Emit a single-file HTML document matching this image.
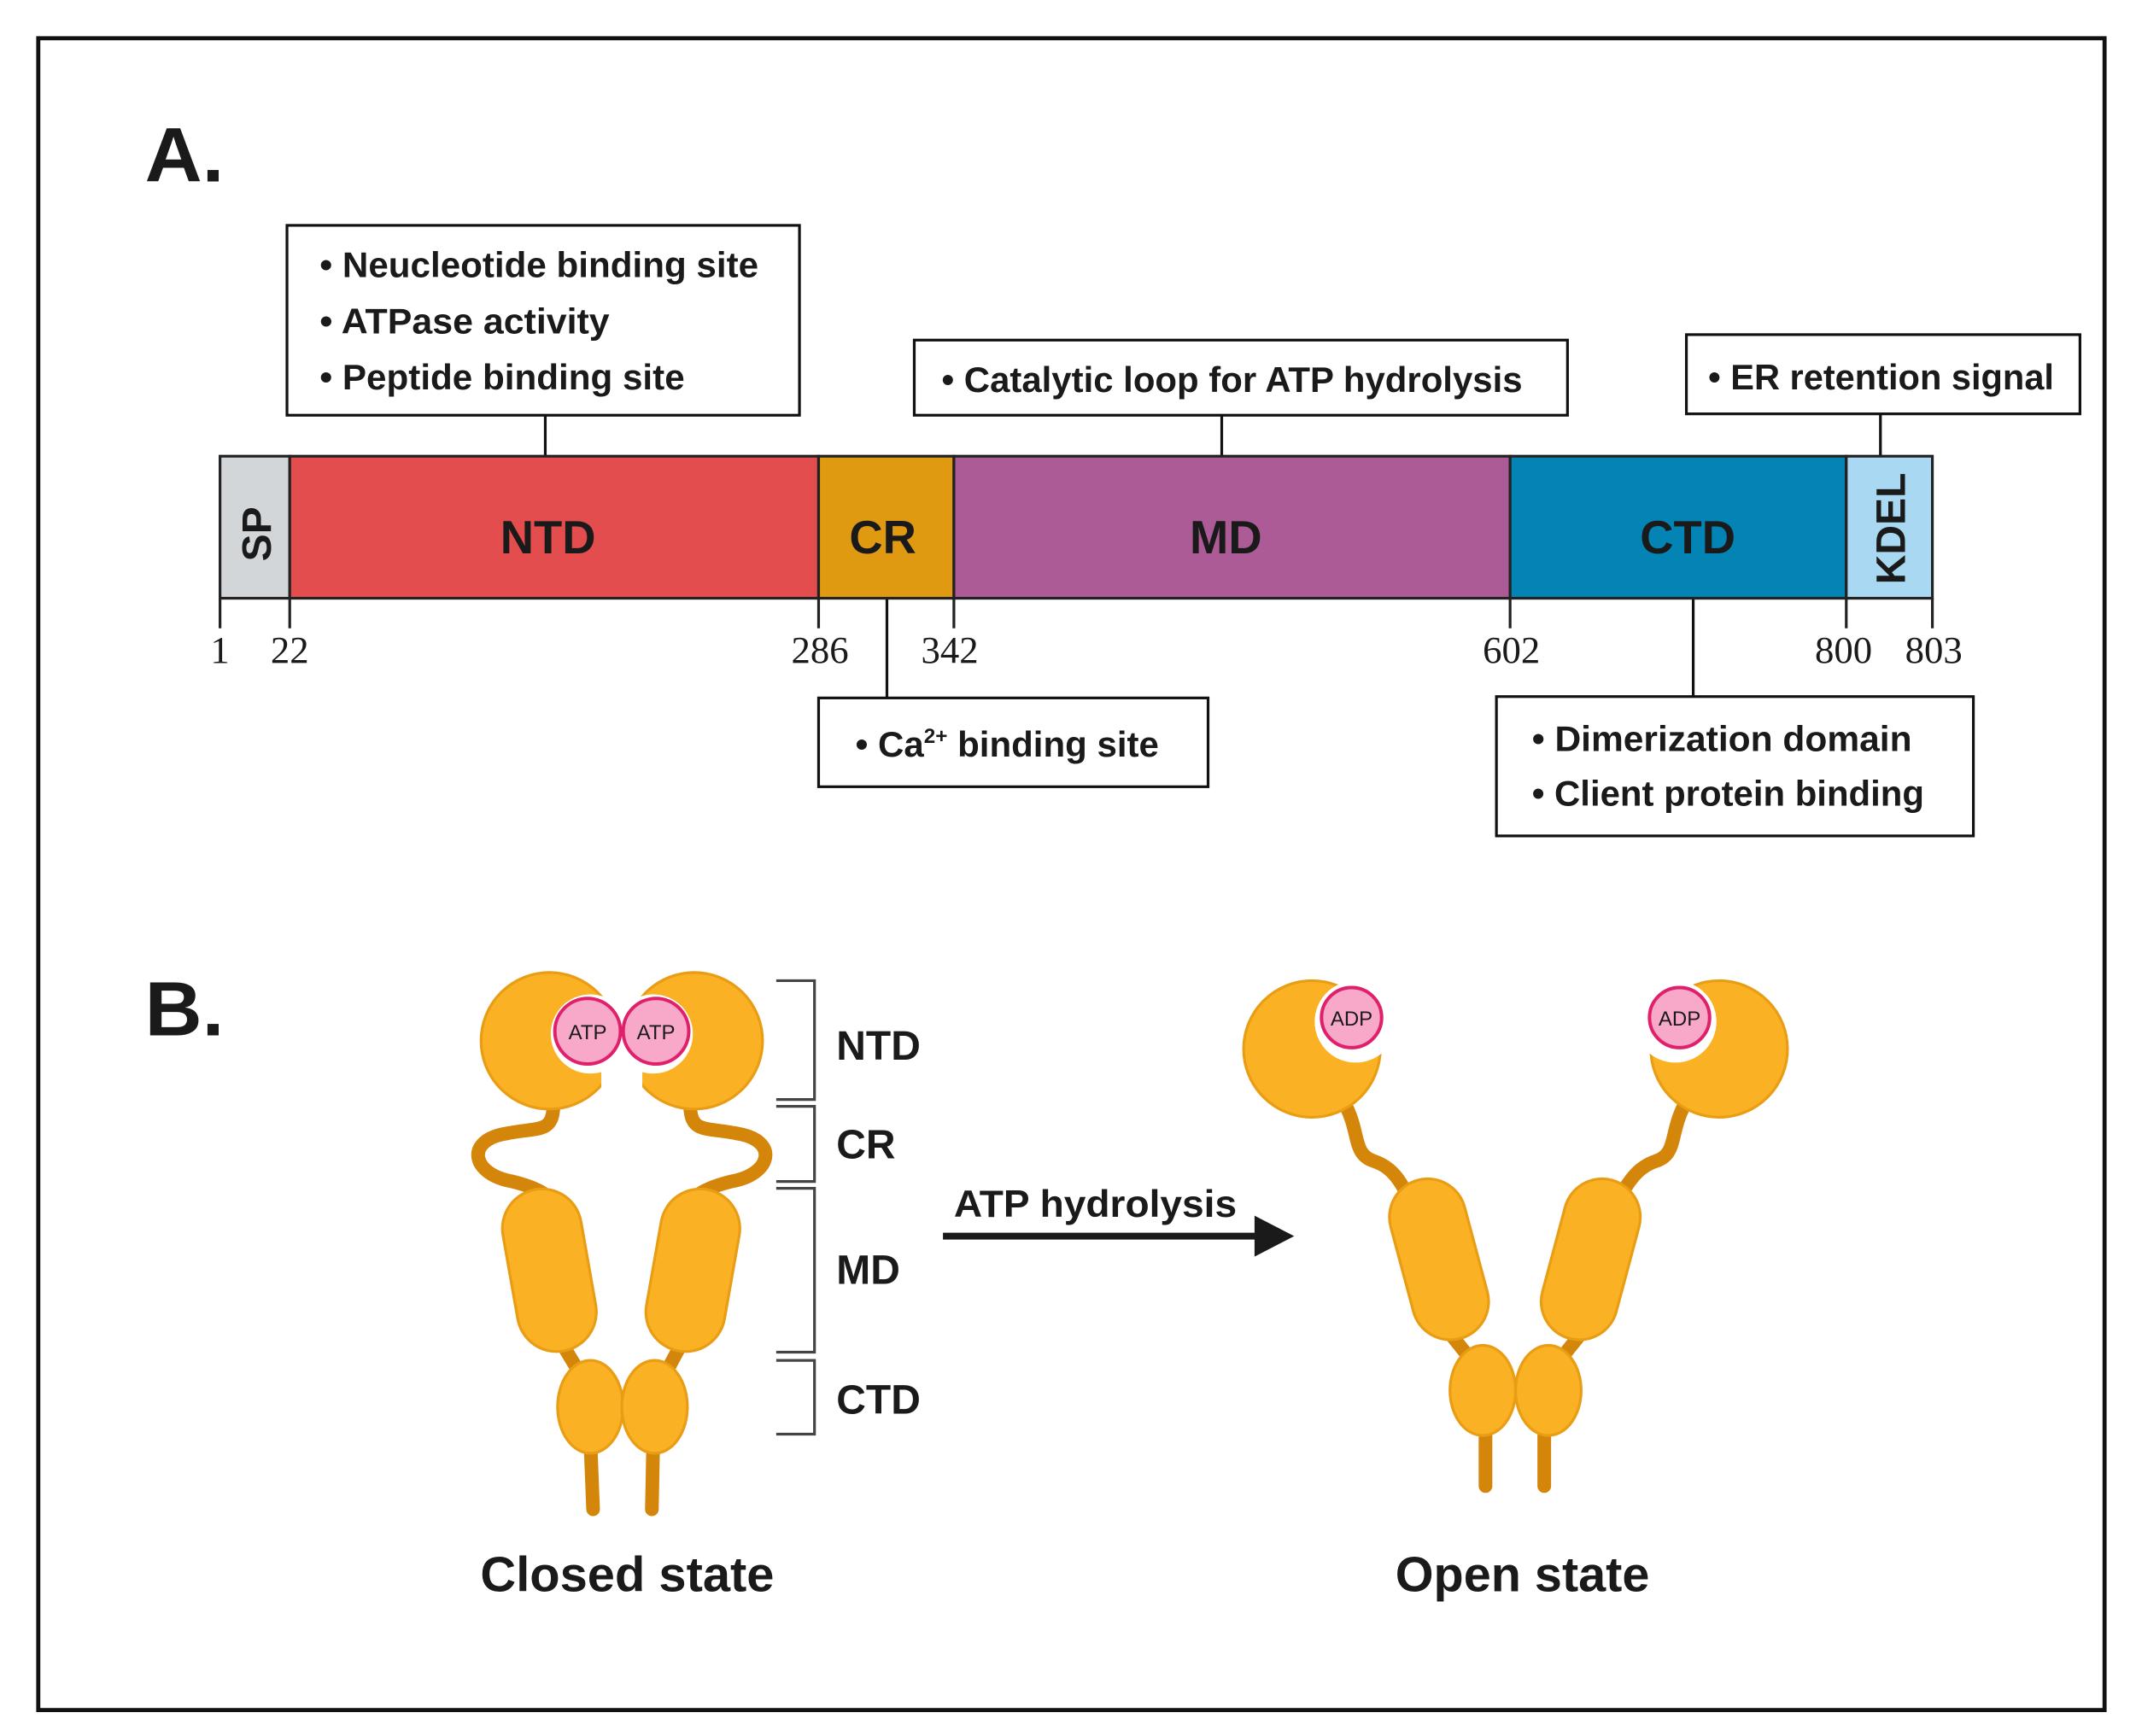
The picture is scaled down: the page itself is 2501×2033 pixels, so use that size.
<!DOCTYPE html>
<html><head><meta charset="utf-8"><style>
html,body{margin:0;padding:0;background:#fff}
svg{display:block}
text{font-family:"Liberation Sans",sans-serif;font-weight:bold;fill:#1a1a1a}
.n{font-family:"Liberation Serif",serif;font-weight:normal;font-size:28px}
.bt{font-size:26px}
</style></head><body>
<svg width="2501" height="2033" viewBox="0 0 1563 1271" preserveAspectRatio="none" xmlns="http://www.w3.org/2000/svg">
<rect x="0" y="0" width="1563" height="1271" fill="#fff"/>
<rect x="28" y="28" width="1512" height="1224" fill="none" stroke="#111" stroke-width="3"/>
<text x="106" y="133" font-size="56" textLength="58" lengthAdjust="spacingAndGlyphs">A.</text>
<text x="106" y="758" font-size="56" textLength="58" lengthAdjust="spacingAndGlyphs">B.</text>

<!-- info boxes -->
<g fill="#fff" stroke="#111" stroke-width="2">
<rect x="210" y="165" width="375" height="139"/>
<rect x="669" y="249" width="478" height="55"/>
<rect x="1234" y="245" width="288" height="58"/>
<rect x="599" y="511" width="285" height="65"/>
<rect x="1095" y="510" width="349" height="102"/>
</g>
<g stroke="#111" stroke-width="2">
<line x1="399" y1="304" x2="399" y2="334"/>
<line x1="894" y1="304" x2="894" y2="334"/>
<line x1="1376" y1="303" x2="1376" y2="334"/>
<line x1="649" y1="438" x2="649" y2="511"/>
<line x1="1239" y1="438" x2="1239" y2="510"/>
</g>
<text class="bt" x="234" y="203" textLength="321" lengthAdjust="spacingAndGlyphs">• Neucleotide binding site</text>
<text class="bt" x="234" y="244" textLength="212" lengthAdjust="spacingAndGlyphs">• ATPase activity</text>
<text class="bt" x="234" y="285" textLength="267" lengthAdjust="spacingAndGlyphs">• Peptide binding site</text>
<text class="bt" x="689" y="287" textLength="425" lengthAdjust="spacingAndGlyphs">• Catalytic loop for ATP hydrolysis</text>
<text class="bt" x="1250" y="285" textLength="253" lengthAdjust="spacingAndGlyphs">• ER retention signal</text>
<text class="bt" x="626" y="554" textLength="222" lengthAdjust="spacingAndGlyphs">• Ca<tspan font-size="15" dy="-10">2+</tspan><tspan dy="10"> binding site</tspan></text>
<text class="bt" x="1121" y="550" textLength="278" lengthAdjust="spacingAndGlyphs">• Dimerization domain</text>
<text class="bt" x="1121" y="590" textLength="287" lengthAdjust="spacingAndGlyphs">• Client protein binding</text>

<!-- bar -->
<g stroke="#222" stroke-width="2">
<rect x="161" y="334" width="51" height="104" fill="#d3d6d9"/>
<rect x="212" y="334" width="387" height="104" fill="#e44d4e"/>
<rect x="599" y="334" width="99" height="104" fill="#e09a12"/>
<rect x="698" y="334" width="407" height="104" fill="#ad5b97"/>
<rect x="1105" y="334" width="246" height="104" fill="#0384b5"/>
<rect x="1351" y="334" width="63" height="104" fill="#a9d9f2"/>
<line x1="161" y1="438" x2="161" y2="460"/><line x1="212" y1="438" x2="212" y2="460"/>
<line x1="599" y1="438" x2="599" y2="460"/><line x1="698" y1="438" x2="698" y2="460"/>
<line x1="1105" y1="438" x2="1105" y2="460"/><line x1="1351" y1="438" x2="1351" y2="460"/>
<line x1="1414" y1="438" x2="1414" y2="460"/>
</g>
<g font-size="34" text-anchor="middle">
<text x="401" y="405">NTD</text>
<text x="646" y="405">CR</text>
<text x="897" y="405">MD</text>
<text x="1235" y="405">CTD</text>
<text transform="translate(198,391) rotate(-90)" font-size="30">SP</text>
<text transform="translate(1394,387) rotate(-90)" font-size="30">KDEL</text>
</g>
<g text-anchor="middle">
<text class="n" x="161" y="485">1</text>
<text class="n" x="212" y="485">22</text>
<text class="n" x="600" y="485">286</text>
<text class="n" x="695" y="485">342</text>
<text class="n" x="1106" y="485">602</text>
<text class="n" x="1349" y="485">800</text>
<text class="n" x="1415" y="485">803</text>
</g>

<!-- closed state -->
<g stroke="#d4860b" stroke-width="10" fill="none" stroke-linecap="round">
<path d="M405 808 C405 830 395 825 370 830 C340 835 345 860 375 865 C395 870 400 875 405 880"/>
<path d="M505 808 C505 830 515 825 540 830 C570 835 565 860 535 865 C515 870 510 875 505 880"/>
<line x1="412" y1="985" x2="430" y2="1015"/><line x1="498" y1="985" x2="482" y2="1015"/>
<line x1="432" y1="1055" x2="434" y2="1105"/><line x1="478" y1="1055" x2="477" y2="1105"/>
<line x1="1060" y1="975" x2="1080" y2="1000"/><line x1="1158" y1="975" x2="1138" y2="1000"/>
<line x1="1087" y1="1045" x2="1087" y2="1088"/><line x1="1130" y1="1045" x2="1130" y2="1088"/>
<path d="M985 810 C995 830 990 845 1005 850 C1020 855 1025 865 1035 885"/>
<path d="M1232 810 C1222 830 1227 845 1212 850 C1197 855 1192 865 1180 885"/>
</g>
<g fill="#fbb124" stroke="#e89d14" stroke-width="2">
<rect x="373" y="870" width="58" height="120" rx="29" transform="rotate(-10 402 930)"/>
<rect x="478" y="870" width="58" height="120" rx="29" transform="rotate(10 507 930)"/>
<ellipse cx="432" cy="1030" rx="24" ry="34"/>
<ellipse cx="479" cy="1030" rx="24" ry="34"/>
<circle cx="402" cy="762" r="50"/>
<circle cx="508" cy="762" r="50"/>
<rect x="1025" y="862" width="56" height="120" rx="28" transform="rotate(-15 1053 922)"/>
<rect x="1136" y="862" width="56" height="120" rx="28" transform="rotate(15 1164 922)"/>
<ellipse cx="1085" cy="1018" rx="24" ry="33"/>
<ellipse cx="1133" cy="1018" rx="24" ry="33"/>
<circle cx="960" cy="768" r="50"/>
<circle cx="1258" cy="768" r="50"/>
</g>
<g fill="#fff">
<circle cx="432" cy="757" r="29"/><circle cx="478" cy="757" r="29"/>
<rect x="440" y="775" width="30" height="40"/>
<circle cx="992" cy="748" r="30"/><circle cx="1226" cy="748" r="30"/>
</g>
<g fill="#f8a8c9" stroke="#e0206a" stroke-width="2.5">
<circle cx="430" cy="755" r="24"/><circle cx="480" cy="755" r="24"/>
<circle cx="989" cy="745" r="22"/><circle cx="1229" cy="745" r="22"/>
</g>
<g font-size="15" text-anchor="middle" font-weight="normal">
<text x="430" y="761" style="font-weight:normal" fill="#5a1030">ATP</text>
<text x="480" y="761" style="font-weight:normal" fill="#5a1030">ATP</text>
<text x="989" y="751" style="font-weight:normal" fill="#5a1030">ADP</text>
<text x="1229" y="751" style="font-weight:normal" fill="#5a1030">ADP</text>
</g>

<!-- brackets -->
<g fill="none" stroke="#444" stroke-width="2">
<polyline points="568,718 596,718 596,805 568,805"/>
<polyline points="568,810 596,810 596,865 568,865"/>
<polyline points="568,870 596,870 596,990 568,990"/>
<polyline points="568,996 596,996 596,1050 568,1050"/>
</g>
<g font-size="30">
<text x="612" y="776">NTD</text>
<text x="612" y="848">CR</text>
<text x="612" y="940">MD</text>
<text x="612" y="1035">CTD</text>
</g>
<line x1="690" y1="905" x2="922" y2="905" stroke="#1a1a1a" stroke-width="5"/>
<polygon points="918,890 947,905 918,920" fill="#1a1a1a"/>
<text x="698" y="891" font-size="28" textLength="207" lengthAdjust="spacingAndGlyphs">ATP hydrolysis</text>
<text x="459" y="1165" font-size="36" text-anchor="middle" textLength="215" lengthAdjust="spacingAndGlyphs">Closed state</text>
<text x="1114" y="1165" font-size="36" text-anchor="middle" textLength="186" lengthAdjust="spacingAndGlyphs">Open state</text>
</svg>
</body></html>
